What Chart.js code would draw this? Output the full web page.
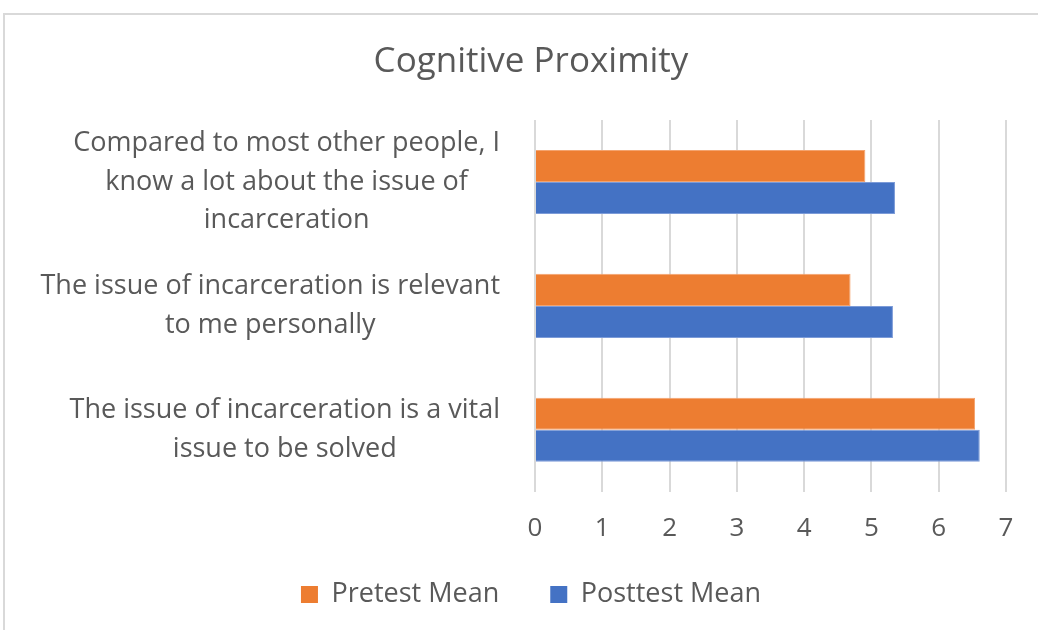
<!DOCTYPE html>
<html>
<head>
<meta charset="utf-8">
<script src="https://cdn.jsdelivr.net/npm/chart.js@4/dist/chart.umd.min.js"></script>
<style>
  html, body { margin: 0; padding: 0; background: #fff; overflow: hidden; }
  #wrap { position: absolute; left: 0; top: 0; width: 1038px; height: 630px; }
  #frame { position: absolute; left: 3px; top: 13px; width: 1100px; height: 700px;
           border-left: 2px solid #d9d9d9; border-top: 2px solid #d9d9d9; }
</style>
</head>
<body>
<div id="frame"></div>
<div id="wrap"><canvas id="chart" width="1038" height="630"></canvas></div>
<script>
// questions (y axis), wrapped as in the original
var questions = [
    ["Compared to most other people, I", "know a lot about the issue of", "incarceration"],
    ["The issue of incarceration is relevant", "to me personally"],
    ["The issue of incarceration is a vital", "issue to be solved"]
];
var pretestMean = [4.91, 4.69, 6.54];
var posttestMean = [5.35, 5.32, 6.61];
var xTicks = [0, 1, 2, 3, 4, 5, 6, 7];

var textColor = "#595959";
var fontName = "'Open Sans', 'DejaVu Sans', sans-serif";
var padLeft = 34, padRight = 10;
var labelFont = "27px " + fontName;
var labelLine = 38.5;

// excel centres each wrapped label on its own widest line, right edge next to the axis
var questionLabels = {
    id: "questionLabels",
    afterDraw: function(chart) {
        var c = chart.ctx;
        var y = chart.scales.y;
        var rightEdge = y.right - 35;
        c.save();
        c.font = labelFont;
        c.fillStyle = textColor;
        c.textAlign = "center";
        c.textBaseline = "middle";
        chart.data.labels.forEach(function(lines, i) {
            var widest = 0;
            lines.forEach(function(l) { widest = Math.max(widest, c.measureText(l).width); });
            var cx = rightEdge - widest / 2;
            var cy = y.getPixelForTick(i);
            var top = cy - (lines.length - 1) * labelLine / 2;
            lines.forEach(function(l, k) {
                c.fillText(l, cx, top + k * labelLine);
            });
        });
        c.restore();
    }
};

var ctx = document.getElementById("chart").getContext("2d");
var chart = new Chart(ctx, {
    type: "bar",
    data: {
        labels: questions,
        datasets: [
            {
                label: "Pretest Mean",
                data: pretestMean,
                backgroundColor: "#ED7D31",
                borderColor: "#F4A36E",
                borderWidth: 1
            },
            {
                label: "Posttest Mean",
                data: posttestMean,
                backgroundColor: "#4472C4",
                borderColor: "#7C9BD8",
                borderWidth: 1
            }
        ]
    },
    plugins: [questionLabels],
    options: {
        indexAxis: "y",
        responsive: false,
        animation: false,
        categoryPercentage: 0.517,
        barPercentage: 1.0,
        layout: { padding: { top: 41, left: padLeft, right: padRight, bottom: 12 } },
        plugins: {
            title: {
                display: true,
                text: "Cognitive Proximity",
                color: textColor,
                font: { family: fontName, size: 35, weight: "normal" },
                padding: { top: 0, bottom: 37 }
            },
            legend: {
                display: true,
                position: "bottom",
                labels: {
                    color: textColor,
                    font: { family: fontName, size: 27 },
                    boxWidth: 17,
                    boxHeight: 17,
                    padding: 16,
                    generateLabels: function(chart) {
                        var items = Chart.defaults.plugins.legend.labels.generateLabels(chart);
                        items.forEach(function(it, i) {
                            it.lineWidth = 0;
                            if (i < items.length - 1) it.text = it.text + "\u00a0\u00a0\u00a0\u00a0\u00a0";
                        });
                        return items;
                    }
                }
            },
            tooltip: { enabled: false }
        },
        scales: {
            x: {
                min: 0,
                max: 7,
                afterBuildTicks: function(scale) {
                    scale.ticks = xTicks.map(function(v) { return { value: v }; });
                },
                grid: { color: "#d9d9d9", lineWidth: 2, drawTicks: false },
                border: { display: false },
                ticks: {
                    color: textColor,
                    padding: 21,
                    font: { family: fontName, size: 26 }
                }
            },
            y: {
                grid: { display: false, drawTicks: false },
                border: { display: false },
                afterFit: function(scale) { scale.width = 535 - padLeft; },
                ticks: { display: false, autoSkip: false }
            },
            // empty right-hand axis, only keeps the plot's right edge at 7
            yRight: {
                position: "right",
                grid: { display: false, drawTicks: false },
                border: { display: false },
                ticks: { display: false },
                afterFit: function(scale) { scale.width = 1028 - 1006; }
            }
        }
    }
});
</script>
</body>
</html>
